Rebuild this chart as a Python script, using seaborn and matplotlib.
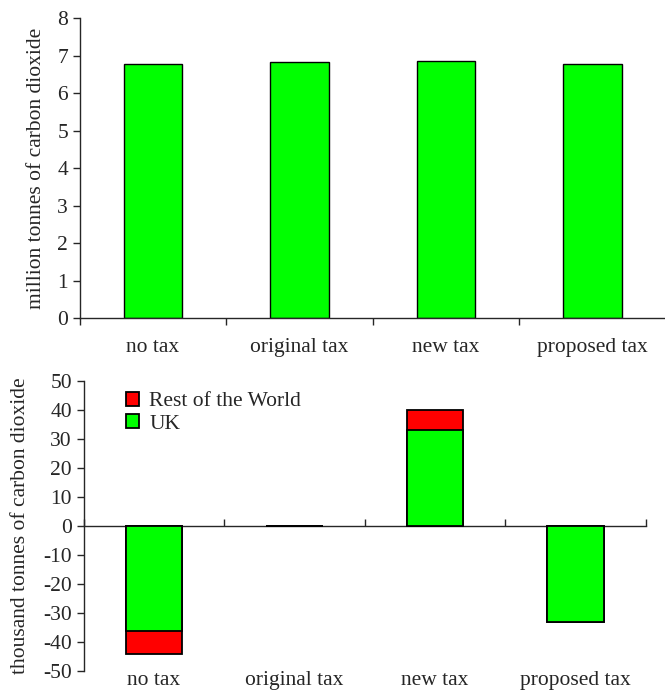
import numpy as np
import pandas as pd
import matplotlib
matplotlib.use('Agg')
import matplotlib.pyplot as plt
import seaborn as sns
from matplotlib.patches import Patch

scenarios = ['no tax', 'original tax', 'new tax', 'proposed tax']
total_mt = [6.77, 6.83, 6.85, 6.77]          # million tonnes
uk_kt = [-36.3, 0.0, 33.1, -33.2]            # thousand tonnes, change
row_kt = [-7.8, 0.0, 6.9, 0.0]

sns.set_style('ticks')
plt.rcParams['font.family'] = ['Liberation Serif', 'DejaVu Serif']
plt.rcParams['axes.linewidth'] = 1.0
plt.rcParams['axes.unicode_minus'] = False

green = '#00ff00'
red = '#ff0000'
fs = 15.5

fig = plt.figure(figsize=(6.65, 6.93), dpi=100)
ax1 = fig.add_axes([0.120, 0.541, 0.881, 0.433])
ax2 = fig.add_axes([0.126, 0.032, 0.845, 0.418])

# top panel
top = pd.DataFrame({'scenario': scenarios, 'value': total_mt})
sns.barplot(data=top, x='scenario', y='value', ax=ax1, color=green,
            saturation=1, width=0.4, edgecolor='black', linewidth=1.0)
ax1.set_xlim(-0.5, 3.5)
ax1.set_ylim(0, 8)
ax1.set_yticks(range(0, 9))
ax1.set_xticks(np.arange(-0.5, 4.0, 1.0), minor=True)
ax1.tick_params(axis='x', which='major', length=0, pad=14, labelsize=fs)
ax1.tick_params(axis='x', which='minor', length=5, width=1, direction='out')
ax1.tick_params(axis='y', length=5, width=1, labelsize=fs)
ax1.set_xlabel('')
ax1.set_ylabel('million tonnes of carbon dioxide', fontsize=fs)
ax1.yaxis.set_label_coords(-0.058, 0.5)
sns.despine(ax=ax1)

# bottom panel: totals drawn first (red), UK drawn over (green)
bot = pd.DataFrame({'scenario': scenarios,
                    'total': np.add(uk_kt, row_kt),
                    'uk': uk_kt})
sns.barplot(data=bot, x='scenario', y='total', ax=ax2, color=red,
            saturation=1, width=0.4, edgecolor='black', linewidth=1.3)
sns.barplot(data=bot, x='scenario', y='uk', ax=ax2, color=green,
            saturation=1, width=0.4, edgecolor='black', linewidth=1.3)
ax2.set_xlim(-0.5, 3.5)
ax2.set_ylim(-50, 50)
ax2.set_yticks(range(-50, 51, 10))
ax2.tick_params(axis='x', length=0, pad=0, labelsize=fs)
ax2.tick_params(axis='y', length=5, width=1, labelsize=fs)
ax2.set_xlabel('')
ax2.set_ylabel('thousand tonnes of carbon dioxide', fontsize=fs)
ax2.yaxis.set_label_coords(-0.096, 0.5)
sns.despine(ax=ax2, bottom=True)

zero = ax2.secondary_xaxis(0.5)
zero.set_xticks(np.arange(-0.5, 4.0, 1.0))
zero.set_xticklabels([])
zero.tick_params(length=5, width=1, direction='out', labelbottom=False,
                 labeltop=False)
zero.spines['bottom'].set_linewidth(1.0)

handles = [Patch(facecolor=red, edgecolor='black', linewidth=1.3),
           Patch(facecolor=green, edgecolor='black', linewidth=1.3)]
ax2.legend(handles, ['Rest of the World', 'UK'], loc='upper left',
           bbox_to_anchor=(0.04, 1.03), frameon=False, fontsize=fs,
           handlelength=0.6, handleheight=0.6, handletextpad=0.5,
           labelspacing=0.15)

fig.savefig('out.png', dpi=100)
